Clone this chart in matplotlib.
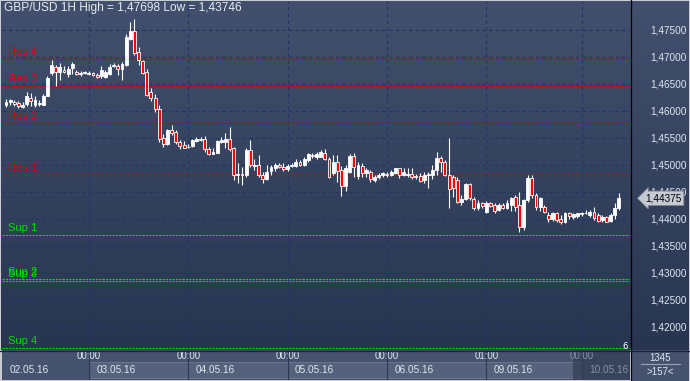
"""GBP/USD 1H candlestick chart with support / resistance levels."""

import matplotlib

matplotlib.use("Agg")
import matplotlib.pyplot as plt
import numpy as np
from matplotlib.lines import Line2D

# hourly candles, 02.05.16 - 10.05.16
opens = [
    1.4611, 1.4616, 1.4616, 1.4613, 1.4607, 1.4612, 1.4624, 1.4610, 1.4612, 1.4611,
    1.4627, 1.4669, 1.4680, 1.4671, 1.4675, 1.4668, 1.4679, 1.4671, 1.4668, 1.4670,
    1.4668, 1.4670, 1.4666, 1.4664, 1.4662, 1.4668, 1.4682, 1.4682, 1.4676, 1.4684,
    1.4733, 1.4748, 1.4708, 1.4691, 1.4671, 1.4634, 1.4623, 1.4603, 1.4549, 1.4538,
    1.4563, 1.4561, 1.4542, 1.4537, 1.4532, 1.4535, 1.4544, 1.4545, 1.4548, 1.4529,
    1.4519, 1.4522, 1.4542, 1.4542, 1.4548, 1.4531, 1.4481, 1.4482, 1.4481, 1.4527,
    1.4498, 1.4499, 1.4481, 1.4473, 1.4488, 1.4493, 1.4499, 1.4496, 1.4491, 1.4497,
    1.4497, 1.4505, 1.4500, 1.4508, 1.4518, 1.4514, 1.4514, 1.4521, 1.4511, 1.4484,
    1.4504, 1.4490, 1.4460, 1.4487, 1.4516, 1.4479, 1.4497, 1.4484, 1.4487, 1.4471,
    1.4476, 1.4480, 1.4482, 1.4481, 1.4484, 1.4493, 1.4481, 1.4481, 1.4482, 1.4479,
    1.4479, 1.4471, 1.4481, 1.4481, 1.4490, 1.4512, 1.4505, 1.4481, 1.4477, 1.4471,
    1.4431, 1.4436, 1.4463, 1.4437, 1.4419, 1.4428, 1.4412, 1.4428, 1.4425, 1.4416,
    1.4425, 1.4420, 1.4425, 1.4440, 1.4425, 1.4384, 1.4434, 1.4475, 1.4443, 1.4421,
    1.4421, 1.4406, 1.4400, 1.4410, 1.4400, 1.4394, 1.4410, 1.4403, 1.4405, 1.4409,
    1.4410, 1.4406, 1.4412, 1.4406, 1.4397, 1.4403, 1.4395, 1.4406, 1.4419,
]
highs = [
    1.4621, 1.4622, 1.4619, 1.4618, 1.4616, 1.4635, 1.4632, 1.4626, 1.4619, 1.4630,
    1.4663, 1.4694, 1.4684, 1.4688, 1.4682, 1.4682, 1.4689, 1.4675, 1.4673, 1.4673,
    1.4673, 1.4671, 1.4670, 1.4682, 1.4675, 1.4686, 1.4688, 1.4686, 1.4690, 1.4742,
    1.4764, 1.47698, 1.4718, 1.4694, 1.4677, 1.4642, 1.4630, 1.4610, 1.4557, 1.4566,
    1.4574, 1.4564, 1.4545, 1.4543, 1.4538, 1.4547, 1.4551, 1.4551, 1.4553, 1.4532,
    1.4530, 1.4545, 1.4551, 1.4558, 1.4570, 1.4533, 1.4503, 1.4496, 1.4530, 1.4545,
    1.4511, 1.4518, 1.4487, 1.4499, 1.4499, 1.4502, 1.4503, 1.4502, 1.4501, 1.4503,
    1.4511, 1.4508, 1.4514, 1.4522, 1.4521, 1.4524, 1.4527, 1.4529, 1.4514, 1.4518,
    1.4518, 1.4497, 1.4499, 1.4519, 1.4521, 1.4504, 1.4502, 1.4493, 1.4490, 1.4481,
    1.4484, 1.4487, 1.4486, 1.4490, 1.4494, 1.4494, 1.4494, 1.4493, 1.4493, 1.4482,
    1.4484, 1.4487, 1.4487, 1.4499, 1.4524, 1.4515, 1.4508, 1.4550, 1.4481, 1.4477,
    1.4443, 1.4465, 1.4465, 1.4440, 1.4434, 1.4431, 1.4432, 1.4431, 1.4428, 1.4429,
    1.4429, 1.4434, 1.4440, 1.4443, 1.4449, 1.4436, 1.4481, 1.4481, 1.4447, 1.4440,
    1.4425, 1.4412, 1.4412, 1.4412, 1.4406, 1.4412, 1.4412, 1.4410, 1.4410, 1.4412,
    1.4416, 1.4416, 1.4422, 1.4410, 1.4406, 1.4405, 1.4410, 1.4428, 1.4447,
]
lows = [
    1.4606, 1.4610, 1.4608, 1.4605, 1.4605, 1.4608, 1.4608, 1.4606, 1.4608, 1.4610,
    1.4626, 1.4666, 1.4645, 1.4656, 1.4669, 1.4662, 1.4668, 1.4666, 1.4664, 1.4668,
    1.4666, 1.4664, 1.4660, 1.4660, 1.4660, 1.4666, 1.4680, 1.4666, 1.4656, 1.4682,
    1.4731, 1.4703, 1.4684, 1.4668, 1.4627, 1.4618, 1.4597, 1.4542, 1.4532, 1.4536,
    1.4555, 1.4538, 1.4529, 1.4530, 1.4530, 1.4532, 1.4541, 1.4544, 1.4524, 1.4518,
    1.4519, 1.4522, 1.4539, 1.4530, 1.4525, 1.4471, 1.4466, 1.4462, 1.4477, 1.4496,
    1.4490, 1.4477, 1.4465, 1.4471, 1.4481, 1.4488, 1.4494, 1.4488, 1.4488, 1.4496,
    1.4496, 1.4497, 1.4498, 1.4505, 1.4512, 1.4511, 1.4513, 1.4508, 1.4475, 1.4480,
    1.4468, 1.4442, 1.4451, 1.4484, 1.4477, 1.4474, 1.4477, 1.4477, 1.4468, 1.4468,
    1.4473, 1.4477, 1.4477, 1.4479, 1.4483, 1.4475, 1.4479, 1.4477, 1.4473, 1.4473,
    1.4468, 1.4465, 1.4456, 1.4474, 1.4481, 1.4487, 1.4479, 1.4420, 1.4440, 1.4428,
    1.4425, 1.4434, 1.4434, 1.4416, 1.4416, 1.4419, 1.4410, 1.4421, 1.4410, 1.4413,
    1.4418, 1.4418, 1.4413, 1.4413, 1.43746, 1.4379, 1.4430, 1.4438, 1.4416, 1.4413,
    1.4410, 1.4394, 1.4395, 1.4394, 1.4389, 1.4391, 1.4400, 1.4399, 1.4401, 1.4405,
    1.4408, 1.4403, 1.4397, 1.4394, 1.4394, 1.4393, 1.4393, 1.4400, 1.4416,
]
closes = [
    1.4616, 1.4619, 1.4612, 1.4609, 1.4611, 1.4626, 1.4618, 1.4619, 1.4614, 1.4627,
    1.4660, 1.4684, 1.4672, 1.4680, 1.4671, 1.4677, 1.4687, 1.4668, 1.4670, 1.4671,
    1.4670, 1.4666, 1.4662, 1.4675, 1.4671, 1.4681, 1.4684, 1.4676, 1.4686, 1.4736,
    1.4748, 1.4707, 1.4693, 1.4670, 1.4629, 1.4623, 1.4603, 1.4548, 1.4538, 1.4563,
    1.4559, 1.4542, 1.4534, 1.4531, 1.4533, 1.4545, 1.4548, 1.4548, 1.4528, 1.4520,
    1.4524, 1.4543, 1.4545, 1.4548, 1.4528, 1.4481, 1.4482, 1.4481, 1.4527, 1.4499,
    1.4500, 1.4481, 1.4473, 1.4487, 1.4495, 1.4499, 1.4495, 1.4491, 1.4497, 1.4500,
    1.4505, 1.4500, 1.4511, 1.4519, 1.4516, 1.4519, 1.4524, 1.4510, 1.4477, 1.4505,
    1.4488, 1.4460, 1.4494, 1.4516, 1.4495, 1.4499, 1.4484, 1.4490, 1.4473, 1.4477,
    1.4481, 1.4484, 1.4480, 1.4487, 1.4493, 1.4481, 1.4487, 1.4482, 1.4476, 1.4477,
    1.4469, 1.4481, 1.4482, 1.4490, 1.4512, 1.4504, 1.4481, 1.4455, 1.4456, 1.4431,
    1.4436, 1.4463, 1.4438, 1.4420, 1.4428, 1.4423, 1.4428, 1.4424, 1.4414, 1.4425,
    1.4420, 1.4429, 1.4438, 1.4421, 1.4385, 1.4434, 1.4475, 1.4443, 1.4421, 1.4438,
    1.4412, 1.4400, 1.4410, 1.4398, 1.4393, 1.4411, 1.4405, 1.4408, 1.4410, 1.4410,
    1.4411, 1.4412, 1.4401, 1.4395, 1.4402, 1.4394, 1.4406, 1.4419, 1.44375,
]

res_names = ["Res 1", "Res 2", "Res 3", "Res 4"]
res_levels = [1.44806, 1.45763, 1.46448, 1.46948]
sup_names = ["Sup 1", "Sup 2", "Sup 3", "Sup 4"]
sup_levels = [1.43689, 1.42874, 1.42837, 1.41602]

price_ticks = [1.420, 1.425, 1.430, 1.435, 1.440, 1.445,
               1.450, 1.455, 1.460, 1.465, 1.470, 1.475]

# bar index where each new session starts
day_starts = [20, 44, 68, 92, 116, 139]
hour_labels = ["00:00", "00:00", "00:00", "00:00", "01:00", "00:00"]
day_labels = ["02.05.16", "03.05.16", "04.05.16", "05.05.16",
              "06.05.16", "09.05.16", "10.05.16"]

W, H = 690, 381
UP = "white"
DOWN = "#ff0000"
GRID = "#1d3667"
TXT = "#dfe5ef"
FONT = "Liberation Sans"


def fx(px):
    return px / W


def fy(py):
    return 1 - py / H


def fmt(v):
    return f"{v:.5f}".replace(".", ",")


fig = plt.figure(figsize=(W / 100, H / 100), dpi=100)
fig.patch.set_facecolor("#c9ccd3")

# gradient background behind chart and price scale
bg = fig.add_axes([fx(1), fy(350), fx(688), 349 / H])
top = np.array([66, 80, 109]) / 255
bot = np.array([40, 53, 81]) / 255
t = np.linspace(0, 1, 256)[:, None, None]
bg.imshow(top + (bot - top) * t, aspect="auto", extent=[0, 1, 0, 1])
bg.axis("off")

ax = fig.add_axes([fx(2), fy(350), 628 / W, 349 / H])
ax.set_facecolor("none")
x = np.arange(len(closes))
ax.set_xlim(-0.97, 150.7)
ax.set_ylim(1.41565, 1.48028)
for s in ax.spines.values():
    s.set_visible(False)

ax.set_xticks(day_starts)
ax.set_xticklabels([])
ax.yaxis.tick_right()
ax.set_yticks(price_ticks)
ax.set_yticklabels([fmt(v) for v in price_ticks])
ax.tick_params(axis="x", length=0)
ax.tick_params(axis="y", length=0, pad=14.5, labelsize=7.2, labelcolor=TXT)
for lab in ax.get_yticklabels():
    lab.set_fontfamily(FONT)
ax.grid(True, color=GRID, linestyle=(0, (3, 3)), linewidth=0.8)
ax.set_axisbelow(True)

# support / resistance levels
for name, lv in zip(res_names, res_levels):
    ax.axhline(lv, color="#d40000", linestyle=(0, (3, 1)), linewidth=0.8, zorder=1)
    ax.annotate(name, xy=(0, lv), xycoords=("axes fraction", "data"),
                xytext=(4.5, 1.5), textcoords="offset points", va="bottom",
                color="#e00000", fontsize=8, family=FONT)
for name, lv in zip(sup_names, sup_levels):
    ax.axhline(lv, color="#00e000", linestyle=(0, (2, 1)), linewidth=0.8, zorder=1)
    ax.annotate(name, xy=(0, lv), xycoords=("axes fraction", "data"),
                xytext=(4.5, 1.5), textcoords="offset points", va="bottom",
                color="#00e000", fontsize=8, family=FONT)

# candles
o = np.array(opens)
c = np.array(closes)
colors = [UP if cc >= oo else DOWN for oo, cc in zip(o, c)]
ax.vlines(x, lows, highs, color="white", linewidth=0.8, zorder=3)
body = np.maximum(np.abs(c - o), 0.00004)
ax.bar(x, body, bottom=np.minimum(o, c), width=0.7, color=colors,
       edgecolor="white", linewidth=0.6, zorder=4)

# current price tag
ax.annotate(fmt(closes[-1]), xy=(1, closes[-1]), xycoords=("axes fraction", "data"),
            xytext=(11, 0), textcoords="offset points", ha="left", va="center",
            fontsize=7.2, family=FONT, color="black",
            bbox=dict(boxstyle="larrow,pad=0.22", fc="#c6cad3", ec="#7d838f", lw=0.6),
            annotation_clip=False, zorder=10)

ax.text(149.6, 1.4163, "6", color="white", fontsize=6, ha="center", va="center")

title = f"GBP/USD 1H High = {fmt(max(highs))} Low = {fmt(min(lows))}"
fig.text(fx(4), fy(8.5), title, color="#e6eaf1", fontsize=8.6, va="center",
         family=FONT)

# time axis panel
pan = fig.add_axes([fx(2), fy(380), 628 / W, 30 / H])
pan.set_xlim(ax.get_xlim())
pan.set_ylim(30, 0)
pan.set_facecolor("#46536e")
pan.set_xticks([])
pan.set_yticks([])
for s in pan.spines.values():
    s.set_visible(False)
edges = day_starts + [150.7]
for k in range(len(day_starts) - 1):
    pan.add_patch(plt.Rectangle((edges[k], 12), edges[k + 1] - edges[k], 16,
                                fc="#56627c", ec="#6e7a93", lw=0.6))
pan.add_patch(plt.Rectangle((day_starts[-1] - 2, 0), 20, 30, fc="#333e55",
                            ec="none", alpha=0.7, zorder=3))
for k, d in enumerate(day_starts):
    pan.axvline(d, color="#2c3650", linewidth=0.8)
    grey = k == len(day_starts) - 1
    pan.text(d, 6, hour_labels[k], ha="center", va="center", fontsize=7,
             family=FONT, color="#8590a6" if grey else TXT, zorder=4)
starts = [-0.97] + day_starts
for k, lab in enumerate(day_labels):
    grey = k == len(day_labels) - 1
    pan.text(starts[k] + 1.8, 20, lab, ha="left", va="center", fontsize=7.2,
             family=FONT, color="#8590a6" if grey else TXT, zorder=4)

# corner box
fig.patches.append(plt.Rectangle((fx(631), 0), fx(58), 31 / H, fc="#46536e",
                                 ec="none", transform=fig.transFigure))
fig.text(fx(660), fy(358), "1345", ha="center", va="center", fontsize=7,
         color=TXT, family=FONT)
fig.add_artist(Line2D([fx(641), fx(680)], [fy(364), fy(364)], color="#9aa3b5",
                      linewidth=0.8))
fig.text(fx(660), fy(372), ">157<", ha="center", va="center", fontsize=7,
         color=TXT, family=FONT)

# separators
fig.add_artist(Line2D([fx(630.5), fx(630.5)], [0, 1], color="black", linewidth=0.9))
fig.add_artist(Line2D([0, 1], [fy(350.5), fy(350.5)], color="#1b2336", linewidth=0.9))

fig.savefig("out.png", dpi=100, facecolor=fig.get_facecolor())
